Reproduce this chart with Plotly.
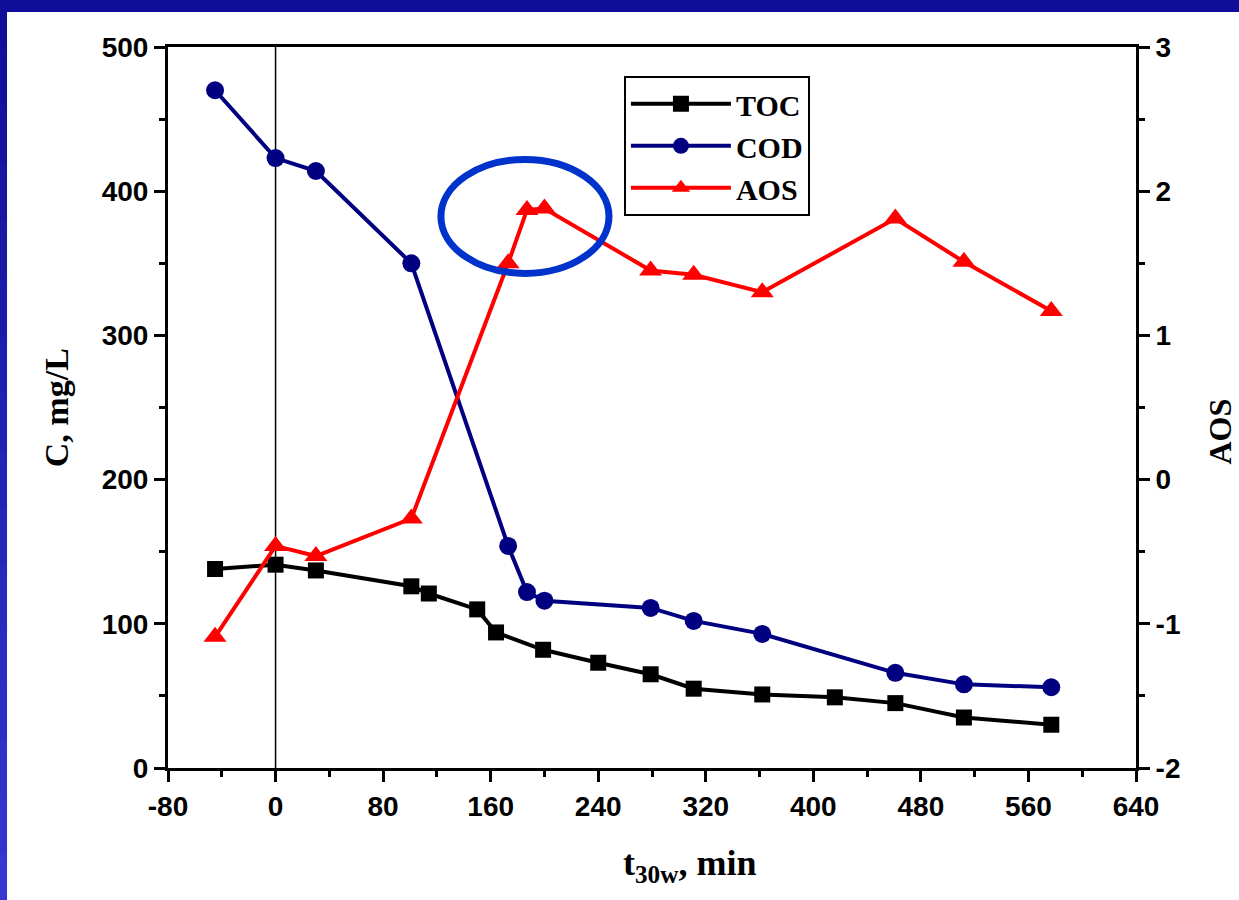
import plotly.graph_objects as go

# ---------------- data ----------------
t_toc = [-45, 0, 30, 101, 114, 150, 164, 199, 240, 279, 311, 362, 416, 461, 512, 577]
toc = [138, 141, 137, 126, 121, 110, 94, 82, 73, 65, 55, 51, 49, 45, 35, 30]

t_cod = [-45, 0, 30, 101, 173, 187, 200, 279, 311, 362, 461, 512, 577]
cod = [470, 423, 414, 350, 154, 122, 116, 111, 102, 93, 66, 58, 56]

t_aos = [-45, 0, 30, 101, 173, 187, 200, 279, 311, 362, 461, 512, 577]
aos = [-1.09, -0.46, -0.53, -0.27, 1.50, 1.87, 1.88, 1.45, 1.42, 1.30, 1.81, 1.51, 1.17]

x_ticks = [-80, 0, 80, 160, 240, 320, 400, 480, 560, 640]
x_ticklabels = ["-80", "0", "80", "160", "240", "320", "400", "480", "560", "640"]
y_ticks = [0, 100, 200, 300, 400, 500]
y_ticklabels = ["0", "100", "200", "300", "400", "500"]
y2_ticks = [-2, -1, 0, 1, 2, 3]
y2_ticklabels = ["-2", "-1", "0", "1", "2", "3"]

# highlight ellipse (data coordinates)
ell_x = [123, 248]
ell_y = [343, 422]

SANS = "Liberation Sans, Arial, sans-serif"
SERIF = "Liberation Serif, Times New Roman, serif"

fig = go.Figure()
fig.add_trace(go.Scatter(x=t_toc, y=toc, name="TOC", mode="lines+markers",
                         line=dict(color="black", width=4),
                         marker=dict(symbol="square", size=16, color="black")))
fig.add_trace(go.Scatter(x=t_cod, y=cod, name="COD", mode="lines+markers",
                         line=dict(color="#000080", width=4),
                         marker=dict(symbol="circle", size=18, color="#000080")))
fig.add_trace(go.Scatter(x=t_aos, y=aos, name="AOS", mode="lines+markers", yaxis="y2",
                         line=dict(color="#ff0000", width=4),
                         marker=dict(symbol="triangle-up", size=20, color="#ff0000")))

tickfont = dict(family=SANS, size=28, color="black", weight="bold")
axis_common = dict(showline=True, linecolor="black", linewidth=3, ticks="outside",
                   tickcolor="black", tickwidth=2.5, ticklen=11, tickfont=tickfont,
                   showgrid=False, zeroline=False)

fig.update_layout(
    width=1239, height=900,
    margin=dict(l=168, r=103, t=47, b=132),
    paper_bgcolor="white", plot_bgcolor="white",
    showlegend=True,
    legend=dict(x=0.471, y=0.96, xanchor="left", yanchor="top",
                bgcolor="white", bordercolor="black", borderwidth=2,
                font=dict(family=SERIF, size=30, color="black", weight="bold"),
                itemwidth=100, tracegroupgap=0),
    xaxis=dict(range=[-80, 640], tickvals=x_ticks, ticktext=x_ticklabels, mirror=True,
               minor=dict(dtick=40, ticklen=6, ticks="outside", tickcolor="black", tickwidth=2.5),
               **axis_common),
    yaxis=dict(range=[0, 500], tickvals=y_ticks, ticktext=y_ticklabels,
               minor=dict(dtick=50, ticklen=6, ticks="outside", tickcolor="black", tickwidth=2.5),
               **axis_common),
    yaxis2=dict(range=[-2, 3], tickvals=y2_ticks, ticktext=y2_ticklabels,
                overlaying="y", side="right",
                minor=dict(dtick=0.5, ticklen=6, ticks="outside", tickcolor="black", tickwidth=2.5),
                **axis_common),
)

shapes = []
# vertical reference line at t = 0
shapes.append(dict(type="line", xref="x", yref="y", x0=0, x1=0, y0=0, y1=500,
                   line=dict(color="black", width=1.5), layer="below"))
# highlight ellipse
shapes.append(dict(type="circle", xref="x", yref="y", x0=ell_x[0], x1=ell_x[1],
                   y0=ell_y[0], y1=ell_y[1], line=dict(color="#0033cc", width=7)))
# blue slide frame: left gradient strip and top strip
n = 16
c0 = (14, 14, 150)
c1 = (54, 54, 208)
step = (1.08 + 0.2) / n
for i in range(n):
    f = i / (n - 1)
    col = "rgb({},{},{})".format(*[round(a + (b - a) * f) for a, b in zip(c0, c1)])
    ytop = 1.08 - i * step
    ybot = ytop - step * 1.15
    shapes.append(dict(type="rect", xref="paper", yref="paper", x0=-0.2, x1=-0.1663,
                       y0=ybot, y1=ytop, fillcolor=col, line=dict(width=0), layer="above"))
shapes.append(dict(type="rect", xref="paper", yref="paper", x0=-0.2, x1=1.2,
                   y0=1.0485, y1=1.08, fillcolor="#0e0e9a", line=dict(width=0), layer="above"))
fig.update_layout(shapes=shapes)

fig.add_annotation(text="C, mg/L", xref="paper", yref="paper", x=-0.115, y=0.5,
                   xanchor="center", yanchor="middle",
                   textangle=-90, showarrow=False,
                   font=dict(family=SERIF, size=34, color="black", weight="bold"))
fig.add_annotation(text="AOS", xref="paper", yref="paper", x=1.087, y=0.467,
                   xanchor="center", yanchor="middle",
                   textangle=-90, showarrow=False,
                   font=dict(family=SERIF, size=32, color="black", weight="bold"))
fig.add_annotation(text="t<sub>30w</sub>, min", xref="paper", yref="paper", x=0.539, y=-0.135,
                   xanchor="center", yanchor="middle",
                   showarrow=False,
                   font=dict(family=SERIF, size=36, color="black", weight="bold"))

fig.write_html("out.html")
